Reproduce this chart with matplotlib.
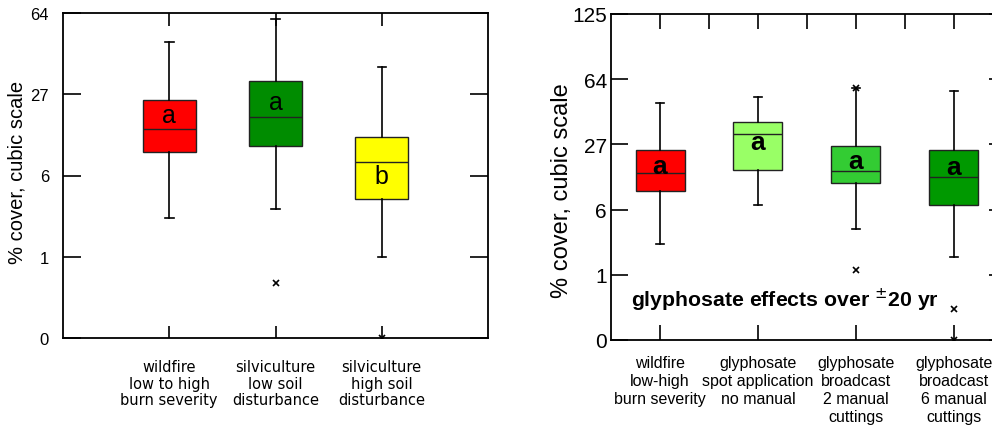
import numpy as np
import matplotlib
matplotlib.use("Agg")
import matplotlib.pyplot as plt
from matplotlib.ticker import FixedLocator

plt.rcParams['font.family'] = ['Liberation Sans', 'DejaVu Sans']

# ---- left panel: wildfire vs silviculture (% cover) ----
left_labels = ["wildfire\nlow to high\nburn severity",
               "silviculture\nlow soil\ndisturbance",
               "silviculture\nhigh soil\ndisturbance"]
left_whislo = [3.2, 4.0, 1.0]
left_q1 = [12.0, 13.2, 5.0]
left_med = [17.1, 20.2, 10.1]
left_q3 = [25.1, 31.8, 15.1]
left_whishi = [48.5, 60.5, 37.3]
left_fliers = [[], [0.31], [0.0]]
left_colors = ["#ff0000", "#008c00", "#ffff00"]
left_letters = ["a", "a", "b"]
left_letter_y = [20.6, 24.6, 8.0]
left_ticks = [0, 1, 8, 27, 64]
left_ticklabels = ["0", "1", "6", "27", "64"]

# ---- right panel: glyphosate treatments (% cover) ----
right_labels = ["wildfire\nlow-high\nburn severity",
                "glyphosate\nspot application\nno manual",
                "glyphosate\nbroadcast\n2 manual\ncuttings",
                "glyphosate\nbroadcast\n6 manual\ncuttings"]
right_whislo = [3.2, 8.9, 5.0, 2.1]
right_q1 = [11.9, 17.7, 14.0, 8.9]
right_med = [16.9, 31.7, 17.5, 15.5]
right_q3 = [24.9, 37.2, 26.5, 24.9]
right_whishi = [47.8, 51.8, 57.5, 55.4]
right_fliers = [[], [], [57.5, 1.22], [0.107, 0.0]]
right_colors = ["#ff0000", "#99ff66", "#33cc33", "#009900"]
right_letters = ["a", "a", "a", "a"]
right_letter_y = [19.0, 27.8, 20.8, 18.6]
right_ticks = [0, 1, 8, 27, 64, 125]
right_ticklabels = ["0", "1", "6", "27", "64", "125"]


def stats(lo, q1, med, q3, hi, fl):
    return [dict(whislo=np.cbrt(a), q1=np.cbrt(b), med=np.cbrt(c), q3=np.cbrt(d),
                 whishi=np.cbrt(e), fliers=np.cbrt(np.array(f, float)))
            for a, b, c, d, e, f in zip(lo, q1, med, q3, hi, fl)]


def draw_boxes(ax, st, colors, capw):
    pos = np.arange(1, len(st) + 1)
    bp = ax.bxp(st, positions=pos, widths=0.5, patch_artist=True,
                capwidths=capw,
                boxprops=dict(edgecolor="#222222", linewidth=1.0),
                medianprops=dict(color="#222222", linewidth=1.0),
                whiskerprops=dict(color="black", linewidth=1.2),
                capprops=dict(color="black", linewidth=1.2),
                flierprops=dict(marker="x", markersize=5, markeredgecolor="black",
                                markeredgewidth=1.2))
    for patch, c in zip(bp["boxes"], colors):
        patch.set_facecolor(c)
    return pos


fig = plt.figure(figsize=(9.92, 4.31), dpi=100)
W, H = 992.0, 431.0

# left axes
ax1 = fig.add_axes([63 / W, (H - 339) / H, (488 - 63) / W, (339 - 14) / H])
pos = draw_boxes(ax1, stats(left_whislo, left_q1, left_med, left_q3, left_whishi, left_fliers),
                 left_colors, 0.08)
for x, t, y in zip(pos, left_letters, left_letter_y):
    ax1.text(x, np.cbrt(y), t, ha="center", va="center", fontsize=18)
ax1.set_xlim(0, 4)
ax1.set_ylim(0, 4)
ax1.set_yticks(np.cbrt(left_ticks))
ax1.set_yticklabels(left_ticklabels, fontsize=12)
ax1.set_xticks(pos)
ax1.set_xticklabels(left_labels, fontsize=10.5, family="DejaVu Sans", linespacing=1.15)
ax1.tick_params(axis="y", direction="in", left=True, right=True, length=13, width=1.2, pad=10)
ax1.tick_params(axis="x", direction="in", bottom=True, top=True, length=9, width=1.2, pad=15)
ax1.set_ylabel("% cover, cubic scale", fontsize=14.5)
ax1.yaxis.set_label_coords(-0.085, 0.512)
for s in ax1.spines.values():
    s.set_linewidth(1.3)

# right axes (extends just past the right edge, as in the source)
ax2 = fig.add_axes([611 / W, (H - 341) / H, (995 - 611) / W, (341 - 15) / H])
pos = draw_boxes(ax2, stats(right_whislo, right_q1, right_med, right_q3, right_whishi, right_fliers),
                 right_colors, 0.09)
for x, t, y in zip(pos, right_letters, right_letter_y):
    ax2.text(x, np.cbrt(y), t, ha="center", va="center", fontsize=19, fontweight="bold")
ax2.text(2.27, 0.63, r"glyphosate effects over $^{\pm}$20 yr", ha="center", va="center",
         fontsize=15.3, fontweight="bold")
ax2.set_xlim(0.5, 0.5 + (995 - 611) / 98.0)
ax2.set_ylim(0, 5)
ax2.set_yticks(np.cbrt(right_ticks))
ax2.set_yticklabels(right_ticklabels, fontsize=15)
ax2.set_xticks(pos)
ax2.set_xticklabels(right_labels, fontsize=11.5, linespacing=1.25, va="top")
ax2.xaxis.set_minor_locator(FixedLocator([1.5, 2.5, 3.5]))
ax2.tick_params(axis="y", direction="in", left=True, right=False, length=12, width=1.2, pad=3)
ax2.tick_params(axis="x", which="major", direction="in", bottom=True, top=True,
                length=11, width=1.2, pad=11)
ax2.tick_params(axis="x", which="minor", direction="in", bottom=False, top=True,
                length=11, width=1.2)
sec = ax2.secondary_yaxis("right")
sec.set_yticks(np.cbrt(right_ticks))
sec.set_yticklabels([])
sec.tick_params(direction="in", length=4, width=1.2)
ax2.set_ylabel("% cover, cubic scale", fontsize=17)
ax2.yaxis.set_label_coords(-0.099, 0.46)
for s in ax2.spines.values():
    s.set_linewidth(1.3)

fig.savefig("out.png", dpi=100)
